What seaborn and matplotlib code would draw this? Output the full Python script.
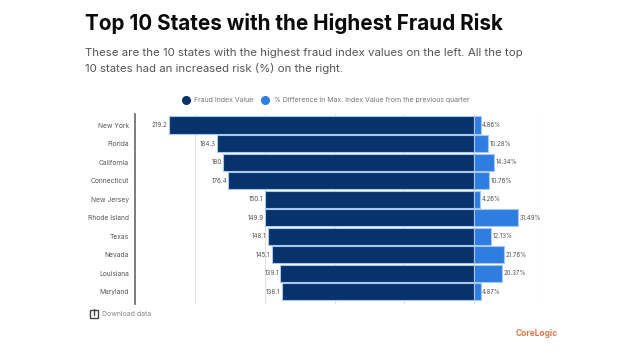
import pandas as pd
import matplotlib
matplotlib.use('Agg')
import matplotlib.pyplot as plt
from matplotlib.lines import Line2D
from matplotlib.patches import Rectangle
import seaborn as sns

states = ['New York', 'Florida', 'California', 'Connecticut', 'New Jersey',
          'Rhode Island', 'Texas', 'Nevada', 'Louisiana', 'Maryland']
fraud_index = [219.2, 184.3, 180, 176.4, 150.1, 149.9, 148.1, 145.1, 139.1, 138.1]
pct_diff = [4.86, 10.28, 14.34, 10.76, 4.26, 31.49, 12.13, 21.76, 20.37, 4.87]
series_names = ['Fraud Index Value', '% Difference in Max. Index Value from the previous quarter']
x_ticks = [-200, -150, -100, -50, 0, 50]

NAVY = '#07326b'
BLUE = '#2f7de1'
EDGE = '#a8c8ee'
GREY = '#555555'

sns.set_theme(style='white')
plt.rcParams['font.family'] = ['Inter', 'DejaVu Sans']

# left series goes negative so both share one axis
df = pd.DataFrame({
    'state': states * 2,
    'value': [-v for v in fraud_index] + pct_diff,
    'series': [series_names[0]] * len(states) + [series_names[1]] * len(states),
})

fig = plt.figure(figsize=(6.4, 3.6), dpi=100, facecolor='white')
ax = fig.add_axes([134.7 / 640, 1 - 304.3 / 360, (543.6 - 134.7) / 640, 190 / 360])

sns.barplot(data=df, x='value', y='state', hue='series', order=states,
            hue_order=series_names, palette=[NAVY, BLUE], dodge=False, width=0.92,
            saturation=1, edgecolor=EDGE, linewidth=0.8, legend=False, ax=ax)

ax.bar_label(ax.containers[0], labels=[f'{v:g}' for v in fraud_index], padding=1,
             fontsize=4.5, color=GREY)
ax.bar_label(ax.containers[1], labels=[f'{v:.2f}%' for v in pct_diff], padding=1,
             fontsize=4.4, color=GREY)

ax.set_xlim(-243.6, 50)
ax.set_ylim(9.68, -0.578)
ax.set_xticks(x_ticks)
ax.set_xticklabels([])
ax.set_xlabel('')
ax.set_ylabel('')
ax.set_axisbelow(True)
ax.grid(axis='x', color='#e2e2e2', linewidth=0.8)
ax.grid(axis='y', visible=False)
ax.tick_params(axis='y', length=0, pad=4, labelsize=4.8, labelcolor=GREY)
ax.tick_params(axis='x', length=0)
for side in ['top', 'right', 'bottom']:
    ax.spines[side].set_visible(False)
ax.spines['left'].set_color('#666666')
ax.spines['left'].set_linewidth(1.2)

handles = [Line2D([], [], marker='o', linestyle='none', markersize=5.5, color=c)
           for c in [NAVY, BLUE]]
fig.legend(handles, series_names, loc='center', bbox_to_anchor=(324 / 640, 1 - 100 / 360),
           ncol=2, frameon=False, fontsize=5, labelcolor='#777777', handletextpad=0.2,
           columnspacing=0.7, borderpad=0)

fig.text(85 / 640, 1 - 23 / 360, 'Top 10 States with the Highest Fraud Risk',
         fontsize=14.9, fontweight='bold', color='#0a0a0a', va='center')
fig.text(85 / 640, 1 - 53 / 360,
         'These are the 10 states with the highest fraud index values on the left. All the top',
         fontsize=8.25, color=GREY, va='center')
fig.text(85 / 640, 1 - 68 / 360, '10 states had an increased risk (%) on the right.',
         fontsize=8.25, color=GREY, va='center')

# download icon
fig.add_artist(Rectangle((89.5 / 640, 1 - 318 / 360), 8 / 640, 8 / 360, transform=fig.transFigure,
                         fill=False, edgecolor='#444444', linewidth=1))
fig.add_artist(Line2D([93.5 / 640, 93.5 / 640], [1 - 309 / 360, 1 - 314.5 / 360],
                      transform=fig.transFigure, color='#444444', linewidth=1))
fig.text(102.5 / 640, 1 - 314 / 360, 'Download data', fontsize=5, color='#888888', va='center')
fig.text(516 / 640, 1 - 334 / 360, 'CoreLogic', fontsize=6, fontweight='bold', color='#d9794a', va='center')

plt.savefig('out.png', dpi=100)
plt.close()
